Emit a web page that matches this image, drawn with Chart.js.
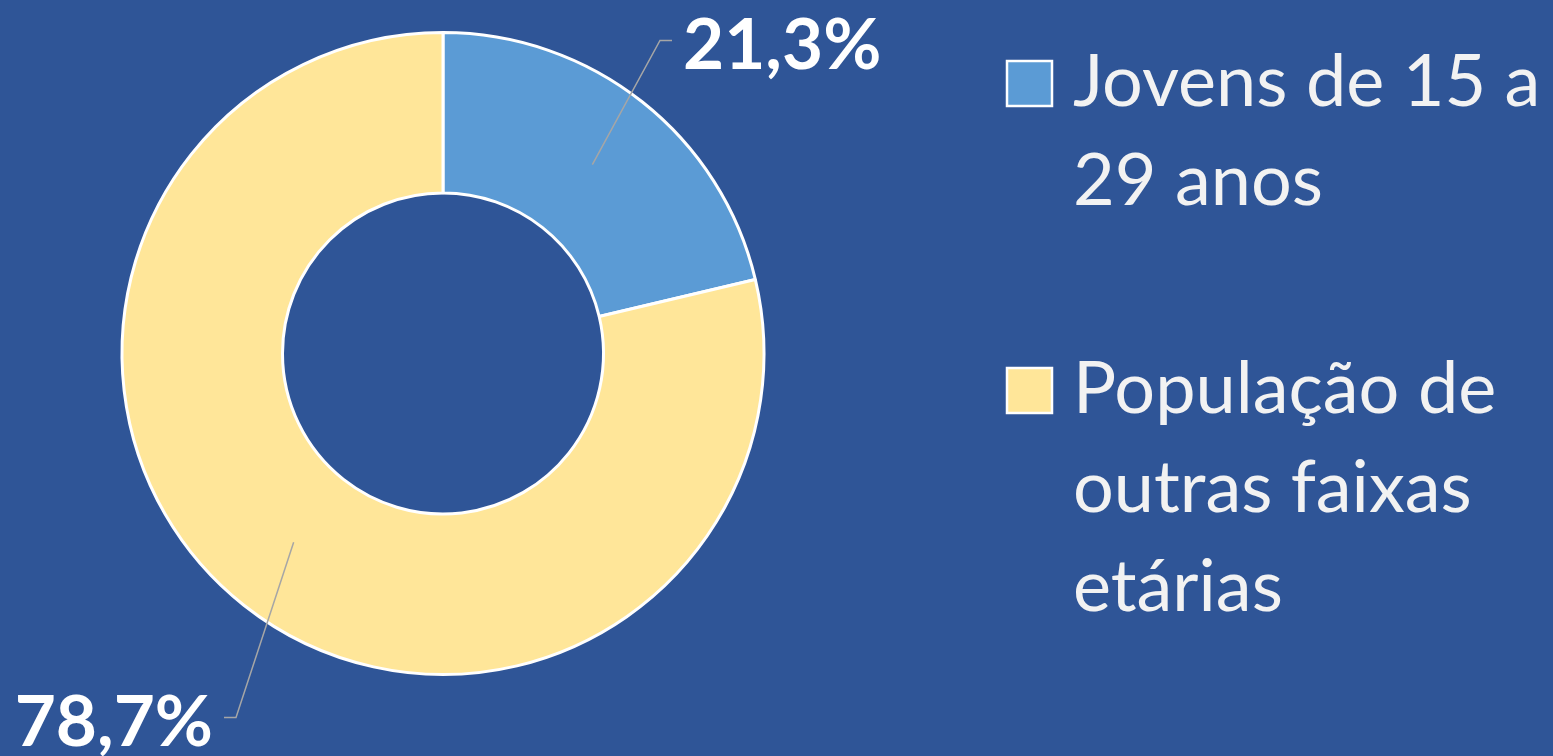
<!DOCTYPE html>
<html><head><meta charset="utf-8">
<script src="https://cdn.jsdelivr.net/npm/chart.js@4"></script>
<style>html,body{margin:0;padding:0;background:#2F5597;overflow:hidden}#wrap{width:1553px;height:756px;position:relative}canvas{display:block}</style>
</head><body><div id="wrap"><canvas id="c" width="1553" height="756"></canvas></div>
<script>
const categories = ["Jovens de 15 a 29 anos", "População de outras faixas etárias"];
const values = [21.3, 78.7];
const sliceColors = ["#5B9BD5", "#FFE699"];

const BG = "#2F5597";
const TEXT = "#F2F2F2";
const FONT = "Lato, 'Open Sans', sans-serif";

function fmt(v){ return v.toFixed(1).replace('.', ',') + '%'; }

const bgPlugin = {
  id: 'bg',
  beforeDraw(chart){
    const c = chart.ctx; c.save(); c.fillStyle = BG; c.fillRect(0,0,chart.width,chart.height); c.restore();
  }
};

// label anchor offsets (elbow position relative to the doughnut centre)
const labelElbows = [{dx:217, dy:-313, dir:1}, {dx:-207, dy:364, dir:-1}];

const labelPlugin = {
  id: 'dlabels',
  afterDatasetsDraw(chart){
    const c = chart.ctx;
    const meta = chart.getDatasetMeta(0);
    meta.data.forEach((arc, i) => {
      const p = arc.tooltipPosition();
      const e = labelElbows[i];
      const ex = arc.x + e.dx, ey = arc.y + e.dy;
      const hx = ex + e.dir * 12;
      c.save();
      c.strokeStyle = '#A6A6A6'; c.lineWidth = 1.5;
      c.beginPath(); c.moveTo(p.x, p.y); c.lineTo(ex, ey); c.lineTo(hx, ey); c.stroke();
      c.fillStyle = '#FFFFFF';
      c.font = "bold 71px " + FONT;
      c.textBaseline = 'alphabetic';
      c.textAlign = e.dir > 0 ? 'left' : 'right';
      c.fillText(fmt(chart.data.datasets[0].data[i]), hx + e.dir * 11, ey + 28);
      c.restore();
    });
  }
};

const legendPlugin = {
  id: 'customLegend',
  afterDraw(chart){
    const c = chart.ctx;
    const x0 = 1007, tx = 1073, maxW = 1553 - tx;
    const startBaselines = [106, 413];
    const lineH = 99;
    c.save();
    c.font = "72px " + FONT;
    chart.data.labels.forEach((lab, i) => {
      const words = lab.split(' ');
      const lines = []; let cur = '';
      words.forEach(w => {
        const t = cur ? cur + ' ' + w : w;
        if (c.measureText(t).width > maxW && cur) { lines.push(cur); cur = w; } else cur = t;
      });
      if (cur) lines.push(cur);
      const b = startBaselines[i];
      c.fillStyle = chart.data.datasets[0].backgroundColor[i];
      c.fillRect(x0, b - 45, 45, 45);
      c.strokeStyle = '#FFFFFF'; c.lineWidth = 2.5;
      c.strokeRect(x0, b - 45, 45, 45);
      c.fillStyle = TEXT; c.textAlign = 'left'; c.textBaseline = 'alphabetic';
      lines.forEach((ln, k) => c.fillText(ln, tx, b + k * lineH));
    });
    c.restore();
  }
};

new Chart(document.getElementById('c'), {
  type: 'doughnut',
  data: {
    labels: categories,
    datasets: [{
      data: values,
      backgroundColor: sliceColors,
      borderColor: '#FFFFFF',
      borderWidth: 3
    }]
  },
  options: {
    responsive: false,
    animation: false,
    cutout: '50%',
    layout: { padding: { left: 120, right: 787, top: 31, bottom: 80 } },
    plugins: { legend: { display: false }, tooltip: { enabled: false } }
  },
  plugins: [bgPlugin, labelPlugin, legendPlugin]
});
</script>
</body></html>
